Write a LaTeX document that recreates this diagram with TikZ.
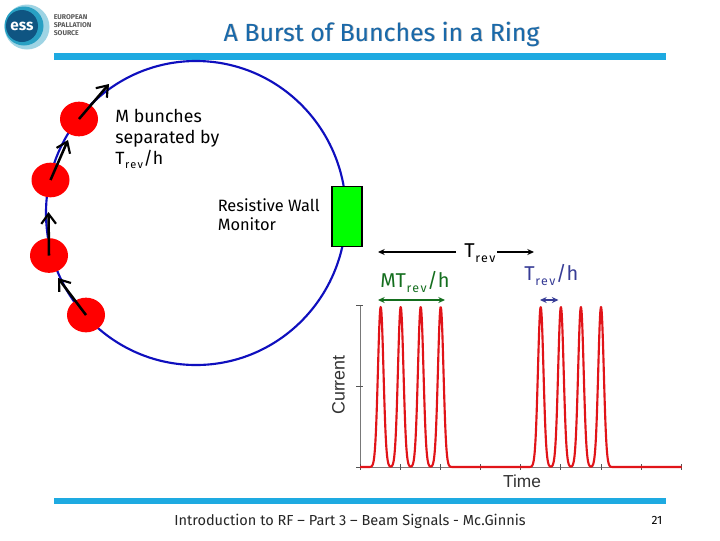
\documentclass[tikz,border=0pt]{standalone}
\usepackage{fontspec}
\setmainfont{Fira Sans}
\newfontfamily\axisfont{Liberation Sans}
\usetikzlibrary{arrows.meta,shapes.geometric}
\newcommand{\revsub}{\raisebox{-0.42ex}{\kern0.5pt\scalebox{0.62}{\addfontfeature{LetterSpace=12}rev}\kern0.5pt}}
\definecolor{ringblue}{RGB}{15,15,190}
\definecolor{barblue}{RGB}{30,170,225}
\definecolor{titleblue}{RGB}{25,105,170}
\definecolor{gblue}{RGB}{55,60,150}
\definecolor{ggreen}{RGB}{20,110,30}
\definecolor{essteal}{RGB}{40,160,195}
\definecolor{essdark}{RGB}{15,85,130}
\definecolor{pulse}{RGB}{225,20,25}
\definecolor{axgray}{RGB}{120,120,120}
\tikzset{
 px/.style={x=0.75pt,y=-0.75pt},
 bar/.style={fill=barblue,draw=none},
 bunch/.style={ellipse,fill=red,draw=none,minimum width=28.5pt,minimum height=26pt,inner sep=0pt},
 motion/.style={draw=black,line width=1.9pt,-{Straight Barb[length=7.5pt,width=11pt,line width=1.6pt]}},
 lbl/.style={inner sep=0pt,anchor=west,align=left},
 dim/.style={line width=1.1pt,{Stealth[length=5pt,width=4.5pt]}-{Stealth[length=5pt,width=4.5pt]}},
 oneway/.style={line width=1.1pt,-{Stealth[length=5pt,width=4.5pt]}},
 axisline/.style={draw=axgray,line width=0.6pt},
 tick/.style={draw=axgray!70!black,line width=0.6pt},
}
\begin{document}
\begin{tikzpicture}[px]
\useasboundingbox (0,0) rectangle (720,540);
\fill[white] (0,0) rectangle (720,540);
% logo
\fill[essteal!45] (27,27) circle[radius=22.5];
\fill[essteal] (24,26) circle[radius=19.5];
\fill[essdark] (22,26) circle[radius=16];
\node[inner sep=0pt,text=white,font=\bfseries\fontsize{11.5}{12}\selectfont] (esslogo) at (22,26) {ess};
\node[lbl,font=\bfseries\fontsize{5.2}{6.3}\selectfont,text=black!65] (esstext) at (53.5,25) {EUROPEAN\\SPALLATION\\SOURCE};
% bars
\fill[bar] (54,53) rectangle (666,60);
\fill[bar] (54,498) rectangle (666,504);
% title
\node[inner sep=0pt,text=black!30,font=\fontsize{18.6}{20}\selectfont] at (382.2,34.7) {A Burst of Bunches in a Ring};
\node[inner sep=0pt,text=titleblue,font=\fontsize{18.6}{20}\selectfont] (title) at (381.5,34) {A Burst of Bunches in a Ring};
% ring
\draw[ringblue,line width=1.6pt] (196,213) ellipse[x radius=150,y radius=152];
% monitor
\node[draw=black,fill=green,line width=1pt,minimum width=22.5pt,minimum height=45pt,inner sep=0pt] (rwm) at (347,216.5) {};
% bunches
\node[bunch] (b1) at (79,119) {};
\node[bunch] (b2) at (50.5,180) {};
\node[bunch] (b3) at (49,255.5) {};
\node[bunch] (b4) at (86,315) {};
\coordinate (a1) at (109,84);
\coordinate (a2) at (68,140);
\coordinate (a3) at (48.5,212);
\coordinate (a4) at (58,278);
\draw[motion] (b1.center) -- (a1);
\draw[motion] (b2.center) -- (a2);
\draw[motion] (b3.center) -- (a3);
\draw[motion] (b4.center) -- (a4);
% labels
\node[lbl,font=\fontsize{13.3}{16}\selectfont] (mb) at (115,139) {M bunches\\separated by\\T\revsub/h};
\node[lbl,font=\fontsize{12.3}{14.4}\selectfont] (rw) at (217.5,215) {Resistive Wall\\Monitor};
% dimensions
\node[inner sep=0pt,font=\fontsize{15}{16}\selectfont,anchor=west] (trev) at (464,253) {T\revsub};
\coordinate (t1) at (378,252);
\coordinate (t2) at (534,252);
\draw[oneway] (trev.west) ++(-8,-1) -- (t1);
\draw[oneway] (trev.east) ++(1,-1) -- (t2);
\node[inner sep=0pt,text=ggreen,font=\fontsize{15}{16}\selectfont,anchor=west] (mt) at (380,282) {MT\revsub/h};
\coordinate (m1) at (378,300);
\coordinate (m2) at (445,300);
\draw[dim,ggreen] (m1) -- (m2);
\node[inner sep=0pt,text=gblue,font=\fontsize{15}{16}\selectfont,anchor=west] (th) at (524,275) {T\revsub/h};
\coordinate (h1) at (540,300);
\coordinate (h2) at (558.5,300);
\draw[dim,gblue,line width=0.9pt] (h1) -- (h2);
% axes
\coordinate (o) at (360,467);
\coordinate (xe) at (681.5,467);
\coordinate (ye) at (360,305);
\draw[axisline] (ye) -- (o) -- (xe);
\foreach \i in {0,...,8}{\draw[tick] (360+40.15*\i,464) -- (360+40.15*\i,469.5);}
\foreach \y in {305,386,467}{\draw[tick] (356,\y) -- (363,\y);}
% pulses
\draw[pulse,line width=1.6pt,line join=round,domain=360:681.5,samples=500,smooth]
 plot (\x,{467-160*(exp(-((\x-380.7)/3.9)^2)+exp(-((\x-400.7)/3.9)^2)+exp(-((\x-420.7)/3.9)^2)+exp(-((\x-440.7)/3.9)^2)+exp(-((\x-540.7)/3.9)^2)+exp(-((\x-560.9)/3.9)^2)+exp(-((\x-580.9)/3.9)^2)+exp(-((\x-601)/3.9)^2))});
\node[inner sep=0pt,rotate=90,font=\axisfont\fontsize{13.4}{14}\selectfont,text=black!80] (cur) at (338.5,385) {Current};
\node[inner sep=0pt,font=\axisfont\fontsize{13}{14}\selectfont,text=black!80] (time) at (522,481.5) {Time};
% footer
\node[inner sep=0pt,font=\fontsize{10.9}{12}\selectfont,text=black!85] (foot) at (350,521.5) {Introduction to RF – Part 3 – Beam Signals - Mc.Ginnis};
\node[inner sep=0pt,font=\fontsize{9}{10}\selectfont] (pg) at (657,520.5) {21};
\end{tikzpicture}
\end{document}
